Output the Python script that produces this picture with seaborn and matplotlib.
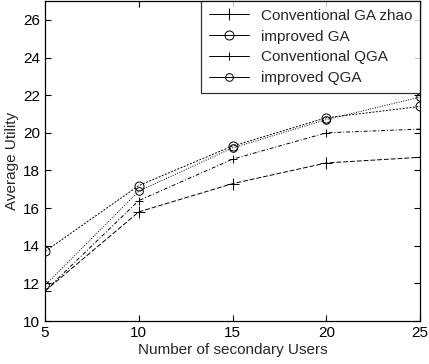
import numpy as np
import pandas as pd
import matplotlib
matplotlib.use("Agg")
import matplotlib.pyplot as plt
import seaborn as sns

users = [5, 10, 15, 20, 25]
ga_zhao = [11.6, 15.8, 17.3, 18.4, 18.7]
improved_ga = [13.7, 17.2, 19.3, 20.8, 21.4]
conv_qga = [11.6, 16.4, 18.6, 20.0, 20.2]
improved_qga = [11.9, 16.9, 19.2, 20.7, 21.9]

series = {
    "Conventional GA zhao": ga_zhao,
    "improved GA": improved_ga,
    "Conventional QGA": conv_qga,
    "improved QGA": improved_qga,
}
styles = {
    "Conventional GA zhao": dict(marker="+", ms=8, ls=(0, (5, 2))),
    "improved GA": dict(marker="o", ms=6.5, ls=(0, (2, 1.5))),
    "Conventional QGA": dict(marker="+", ms=6, ls=(0, (4, 2, 1, 2))),
    "improved QGA": dict(marker="o", ms=5.5, ls=(0, (1, 1.5))),
}

sns.set_style("ticks")
plt.rcParams["font.family"] = ["Liberation Sans", "DejaVu Sans"]
plt.rcParams["xtick.direction"] = "in"
plt.rcParams["ytick.direction"] = "in"

fig = plt.figure(figsize=(4.29, 3.64), dpi=100)
ax = fig.add_axes([0.105, 0.118, 0.874, 0.879])

for name, vals in series.items():
    st = styles[name]
    sns.lineplot(x=users, y=vals, ax=ax, color="black", linewidth=0.7,
                 marker=st["marker"], markersize=st["ms"], linestyle=st["ls"],
                 markerfacecolor="none", markeredgecolor="black",
                 markeredgewidth=0.7, label=name)

ax.set_xlim(5, 25)
ax.set_ylim(10, 27)
ax.set_xticks([5, 10, 15, 20, 25])
ax.set_yticks(np.arange(10, 27, 2))
ax.tick_params(axis="both", labelsize=11, length=4, width=0.8,
               top=True, right=True, colors="black")
for s in ax.spines.values():
    s.set_color("black")
    s.set_linewidth(0.9)
ax.set_xlabel("Number of secondary Users", fontsize=11, labelpad=2)
ax.set_ylabel("Average Utility", fontsize=11, labelpad=3)

leg = ax.legend(loc="upper right", fontsize=11, frameon=True, fancybox=False,
                edgecolor="black", borderaxespad=0, handlelength=2.6,
                labelspacing=0.45, borderpad=0.5)
leg.get_frame().set_linewidth(0.9)
for h in leg.get_lines():
    h.set_linestyle("-")

fig.savefig("out.png", dpi=100)
